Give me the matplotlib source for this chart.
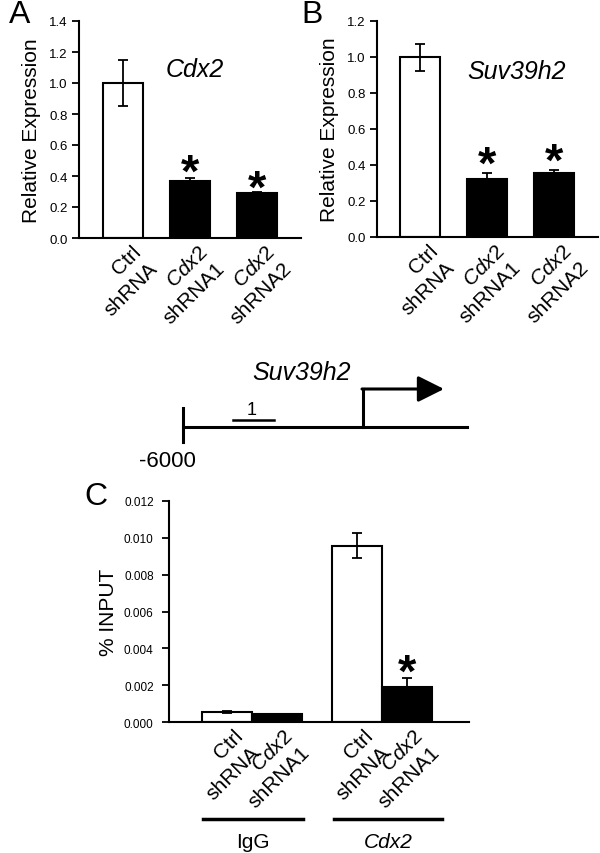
import matplotlib
matplotlib.use('Agg')
import matplotlib.pyplot as plt
from matplotlib.ticker import FormatStrFormatter, MultipleLocator
from matplotlib.transforms import offset_copy

plt.rcParams['font.family'] = ['Liberation Sans', 'DejaVu Sans']
plt.rcParams['mathtext.fontset'] = 'custom'
plt.rcParams['mathtext.it'] = 'Liberation Sans:italic'
plt.rcParams['mathtext.rm'] = 'Liberation Sans'

# panel A: Cdx2 expression
a_labels = ['Ctrl\nshRNA', '$\\mathit{Cdx2}$\nshRNA1', '$\\mathit{Cdx2}$\nshRNA2']
a_vals = [1.0, 0.37, 0.29]
a_err = [0.15, 0.02, 0.008]
a_star = [None, 0.49, 0.39]

# panel B: Suv39h2 expression
b_labels = ['Ctrl\nshRNA', '$\\mathit{Cdx2}$\nshRNA1', '$\\mathit{Cdx2}$\nshRNA2']
b_vals = [1.0, 0.32, 0.355]
b_err = [0.075, 0.035, 0.018]
b_star = [None, 0.46, 0.48]

# panel C: ChIP % input
c_labels = ['Ctrl\nshRNA', '$\\mathit{Cdx2}$\nshRNA1', 'Ctrl\nshRNA', '$\\mathit{Cdx2}$\nshRNA1']
c_pos = [0, 1, 2.6, 3.6]
c_vals = [0.00054, 0.00043, 0.00956, 0.0019]
c_err = [0.00006, 0.00002, 0.00068, 0.00047]
c_star = [None, None, None, 0.00326]
c_groups = ['IgG', 'Cdx2']

colors3 = ['white', 'black', 'black']
colors4 = ['white', 'black', 'white', 'black']

fig = plt.figure(figsize=(6, 8.54), dpi=100)

ov = fig.add_axes([0, 0, 1, 1])
ov.set_xlim(0, 600)
ov.set_ylim(854, 0)
ov.axis('off')


def style(ax, fs):
    for s in ['top', 'right']:
        ax.spines[s].set_visible(False)
    for s in ['left', 'bottom']:
        ax.spines[s].set_linewidth(1.5)
    ax.tick_params(axis='y', direction='out', length=5, width=1.3, labelsize=fs, pad=3)
    ax.tick_params(axis='x', length=0)


def draw(ax, x, vals, errs, cols, labels, stars, width, fs, dx):
    ax.bar(x, vals, width=width, color=cols, edgecolor='black', linewidth=1.5, zorder=2)
    ax.errorbar(x, vals, yerr=errs, fmt='none', ecolor='black', elinewidth=1.3,
                capsize=3.5, capthick=1.3, zorder=3)
    ax.set_xticks(x)
    ax.set_xticklabels([])
    tr = offset_copy(ax.get_xaxis_transform(), fig=fig, x=dx, y=-4, units='dots')
    for xi, lab in zip(x, labels):
        ax.text(xi, 0, lab, transform=tr, rotation=45, ha='right', va='top',
                rotation_mode='anchor', multialignment='right', fontsize=fs,
                linespacing=1.3)
    st = offset_copy(ax.transData, fig=fig, x=0, y=-24, units='dots')
    for xi, s in zip(x, stars):
        if s is not None:
            ax.text(xi, s, '*', transform=st, fontsize=34, fontweight='bold',
                    ha='center', va='baseline')


axA = fig.add_axes([79 / 600, 1 - 239 / 854, 222 / 600, 217 / 854])
draw(axA, [0, 1, 2], a_vals, a_err, colors3, a_labels, a_star, 0.6, 15, 8)
axA.set_xlim(-0.66, 2.66)
axA.set_ylim(0, 1.4)
axA.yaxis.set_major_locator(MultipleLocator(0.2))
axA.yaxis.set_major_formatter(FormatStrFormatter('%.1f'))
style(axA, 9.5)
axA.set_ylabel('Relative Expression', fontsize=15, labelpad=6)
axA.text(1.07, 1.09, 'Cdx2', style='italic', fontsize=18, ha='center', va='center')

axB = fig.add_axes([377 / 600, 1 - 238 / 854, 221 / 600, 216 / 854])
draw(axB, [0, 1, 2], b_vals, b_err, colors3, b_labels, b_star, 0.6, 15, 8)
axB.set_xlim(-0.64, 2.66)
axB.set_ylim(0, 1.2)
axB.yaxis.set_major_locator(MultipleLocator(0.2))
axB.yaxis.set_major_formatter(FormatStrFormatter('%.1f'))
style(axB, 9.5)
axB.set_ylabel('Relative Expression', fontsize=15, labelpad=6)
axB.text(1.45, 0.92, 'Suv39h2', style='italic', fontsize=18, ha='center', va='center')

axC = fig.add_axes([169 / 600, 1 - 723 / 854, 300 / 600, 221 / 854])
draw(axC, c_pos, c_vals, c_err, colors4, c_labels, c_star, 1.0, 15, 6)
axC.set_xlim(-1.16, 4.84)
axC.set_ylim(0, 0.012)
axC.yaxis.set_major_locator(MultipleLocator(0.002))
axC.yaxis.set_major_formatter(FormatStrFormatter('%.3f'))
style(axC, 8.5)
axC.tick_params(axis='y', pad=6)
axC.set_ylabel('% INPUT', fontsize=15, labelpad=4)

# group bars under panel C
ov.plot([203, 303], [820, 820], color='black', lw=2.5)
ov.plot([334, 442], [820, 820], color='black', lw=2.5)
ov.text(253, 843, c_groups[0], fontsize=15, ha='center', va='center')
ov.text(388, 843, c_groups[1], fontsize=15, ha='center', va='center', style='italic')

# panel letters
ov.text(20, 15, 'A', fontsize=23, ha='center', va='center')
ov.text(312, 15, 'B', fontsize=23, ha='center', va='center')
ov.text(96, 497, 'C', fontsize=23, ha='center', va='center')

# promoter diagram
ov.plot([183, 467], [428, 428], color='black', lw=2.2)
ov.plot([183, 183], [409, 443], color='black', lw=2.2)
ov.plot([233, 274], [421, 421], color='black', lw=1.8)
ov.text(252, 411, '1', fontsize=13, ha='center', va='center')
ov.text(167, 462, '-6000', fontsize=16, ha='center', va='center')
ov.text(302, 373, 'Suv39h2', style='italic', fontsize=18, ha='center', va='center')
ov.plot([363, 363], [428, 390], color='black', lw=2.2)
ov.annotate('', xy=(444, 390), xytext=(362, 390),
            arrowprops=dict(arrowstyle='-|>,head_length=1.6,head_width=0.8',
                            color='black', lw=2.2, shrinkA=0, shrinkB=0))

fig.savefig('out.png', dpi=100)
